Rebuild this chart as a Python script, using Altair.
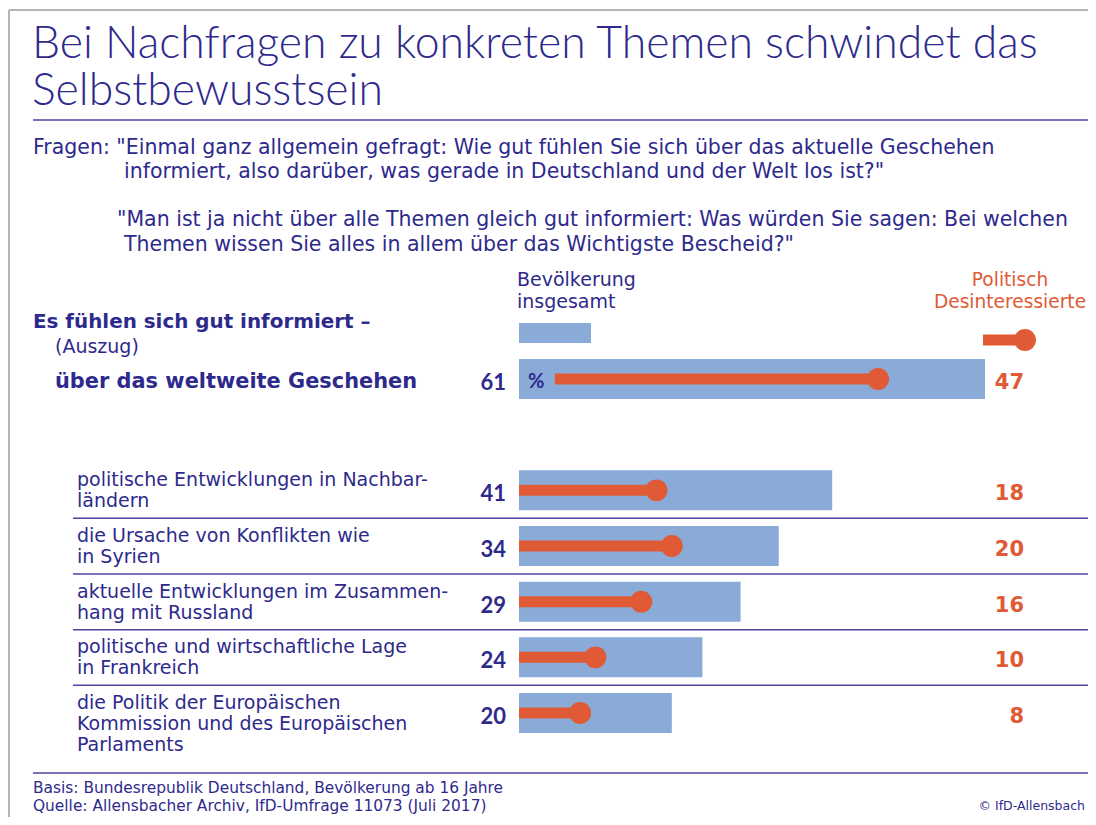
import altair as alt
import pandas as pd

# ---------------- data ----------------
title_text = "Bei Nachfragen zu konkreten Themen schwindet das\nSelbstbewusstsein"
question_1 = ['Fragen: "Einmal ganz allgemein gefragt: Wie gut fühlen Sie sich über das aktuelle Geschehen',
              'informiert, also darüber, was gerade in Deutschland und der Welt los ist?"']
question_2 = ['"Man ist ja nicht über alle Themen gleich gut informiert: Was würden Sie sagen: Bei welchen',
              'Themen wissen Sie alles in allem über das Wichtigste Bescheid?"']
header_main = "Es fühlen sich gut informiert –"
header_sub = "(Auszug)"
legend_pop = "Bevölkerung\ninsgesamt"
legend_dis = "Politisch\nDesinteressierte"

topics = [
    "über das weltweite Geschehen",
    "politische Entwicklungen in Nachbar-\nländern",
    "die Ursache von Konflikten wie\nin Syrien",
    "aktuelle Entwicklungen im Zusammen-\nhang mit Russland",
    "politische und wirtschaftliche Lage\nin Frankreich",
    "die Politik der Europäischen\nKommission und des Europäischen\nParlaments",
]
population = [61, 41, 34, 29, 24, 20]
disinterested = [47, 18, 20, 16, 10, 8]

footer_1 = "Basis: Bundesrepublik Deutschland, Bevölkerung ab 16 Jahre"
footer_2 = "Quelle: Allensbacher Archiv, IfD-Umfrage 11073 (Juli 2017)"
credit = "© IfD-Allensbach"

# ---------------- styles ----------------
DARK = "#2e2a8c"
ORANGE = "#e05a35"
BLUE = "#8aaad8"
RULE = "#4a46a0"
FRAME = "#b4b4b4"
TITLE_FONT = "Lato"
BODY = "DejaVu Sans"
NUM = "Lato"

df = pd.DataFrame({
    "topic": topics,
    "pop": population,
    "dis": disinterested,
    "top": [i == 0 for i in range(len(topics))],
})

gap = " "
ydomain = [topics[0], gap] + topics[1:]
x_scale = alt.Scale(domain=[0, 61], range=[511, 977])
y_scale = alt.Scale(type="point", domain=ydomain, range=[371, 705], padding=0)


def X(f):
    return alt.X(f, type="quantitative", scale=x_scale, axis=None)


Y = alt.Y("topic:N", scale=y_scale, axis=None)

base = alt.Chart(df)

bars = base.mark_bar(size=40, color=BLUE).encode(x=X("pop"), y=Y)

# the top row's stem starts right of the "%" sign
stems = base.transform_calculate(
    start="datum.top ? 4.7 : 0"
).mark_rule(strokeWidth=11, color=ORANGE, strokeCap="butt").encode(
    x=X("start"), x2="dis:Q", y=Y)

dots = base.mark_circle(size=480, opacity=1, color=ORANGE).encode(x=X("dis"), y=Y)

left_vals = base.mark_text(
    align="right", baseline="middle", dy=4, font=NUM, fontSize=22, fontWeight="bold", color=DARK
).encode(x=alt.value(498), y=Y, text="pop:Q")

right_vals = base.mark_text(
    align="right", baseline="middle", dy=4, font=BODY, fontSize=21, fontWeight="bold", color=ORANGE
).encode(x=alt.value(1016), y=Y, text="dis:Q")

row_labels = base.transform_filter("!datum.top").mark_text(
    align="left", baseline="alphabetic", dy=-4, font=BODY, fontSize=19, color=DARK,
    lineBreak="\n", lineHeight=21
).encode(x=alt.value(69), y=Y, text="topic:N")

top_label = base.transform_filter("datum.top").mark_text(
    align="left", baseline="middle", dy=3, font=BODY, fontSize=20.9, fontWeight="bold", color=DARK
).encode(x=alt.value(47), y=Y, text="topic:N")

pct = base.transform_filter("datum.top").mark_text(
    align="left", baseline="middle", dy=3, font=NUM, fontSize=20, fontWeight="bold", color=DARK, text="%"
).encode(x=alt.value(520), y=Y)

seps = alt.Chart(pd.DataFrame({"topic": topics[1:5]})).mark_rule(
    color=RULE, strokeWidth=1.5, yOffset=28
).encode(x=alt.value(65), x2=alt.value(1080), y=Y)


def one():
    return alt.Chart(pd.DataFrame({"k": [0]}))


def text_at(txt, x, y, size, color=DARK, weight="normal", align="left", lh=None, font=BODY):
    kw = dict(align=align, baseline="middle", font=font, fontSize=size, fontWeight=weight,
              color=color, text=txt)
    if lh is not None:
        kw.update(lineBreak="\n", lineHeight=lh)
    return one().mark_text(**kw).encode(x=alt.value(x), y=alt.value(y))


def hrule(x1, x2, y, color, w):
    return one().mark_rule(color=color, strokeWidth=w).encode(
        x=alt.value(x1), x2=alt.value(x2), y=alt.value(y))


def vrule(x, y1, y2, color, w):
    return one().mark_rule(color=color, strokeWidth=w).encode(
        x=alt.value(x), y=alt.value(y1), y2=alt.value(y2))


title = one().mark_text(
    align="left", baseline="middle", font=TITLE_FONT, fontSize=44.5, fontWeight=300, color=DARK,
    lineBreak="\n", lineHeight=47, text=title_text
).encode(x=alt.value(24), y=alt.value(37))

decor = [
    hrule(1, 1080, 2, FRAME, 2),
    vrule(1, 2, 809, FRAME, 2),
    title,
    hrule(25, 1080, 112, RULE, 1.5),
    text_at(question_1[0], 25, 140, 20.5),
    text_at(question_1[1], 116, 164, 20.5),
    text_at(question_2[0], 109, 212, 20.5),
    text_at(question_2[1], 116, 237, 20.5),
    text_at(header_main, 25, 314, 19.9, weight="bold"),
    text_at(header_sub, 47, 339, 19),
    text_at(legend_pop, 509, 272, 19, lh=22),
    text_at(legend_dis, 1002, 272, 18.6, color=ORANGE, align="center", lh=22),
    one().mark_rect(color=BLUE).encode(x=alt.value(511), x2=alt.value(583),
                                       y=alt.value(315), y2=alt.value(335)),
    one().mark_rule(color=ORANGE, strokeWidth=11, strokeCap="butt").encode(
        x=alt.value(975), x2=alt.value(1017), y=alt.value(332)),
    one().mark_circle(color=ORANGE, opacity=1, size=480).encode(
        x=alt.value(1017), y=alt.value(332)),
    hrule(25, 1080, 765, RULE, 1.5),
    text_at(footer_1, 25, 780, 15.4),
    text_at(footer_2, 25, 798, 15.4),
    text_at(credit, 1077, 798, 12.5, align="right"),
]

chart = alt.layer(
    seps, bars, stems, dots, left_vals, right_vals, row_labels, top_label, pct, *decor
).properties(
    width=1080, height=809, padding=0, autosize=alt.AutoSizeParams(type="none")
).configure_view(stroke=None)

chart.save("out.html", embed_options={"renderer": "svg", "actions": False})
